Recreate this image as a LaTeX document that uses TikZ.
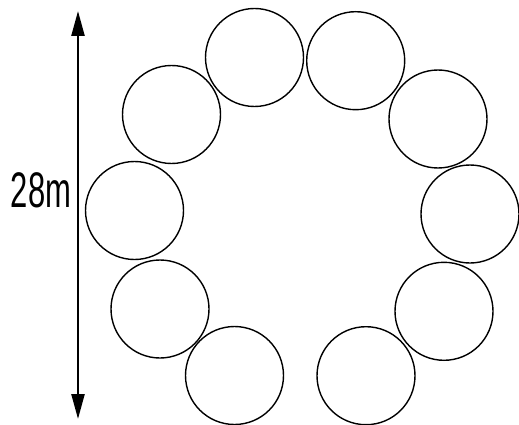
\documentclass[tikz,border=0pt]{standalone}
\usepackage{fontspec}
\setmainfont{Liberation Sans}
\usetikzlibrary{arrows.meta}

\begin{document}
\begin{tikzpicture}[x=1pt, y=-1pt]

  \useasboundingbox (0,0) rectangle (519,425);

  % height arrow
  \coordinate (top) at (78,11);
  \coordinate (bot) at (78,419);
  \draw[{Triangle[length=25pt,width=13pt]}-{Triangle[length=25pt,width=13pt]}, line width=2.4pt] (top) -- (bot);
  \node[xscale=0.62, font=\fontsize{50}{50}\selectfont] (len) at (41,190) {28m};

  % ring of circles
  \foreach \name/\px/\py in {
    c1/254.5/57.5, c2/355.7/60.7, c3/438/119, c4/470/214, c5/444/311.3,
    c6/366/375.7, c7/234.5/375.5, c8/160/309, c9/134.5/210.5, c10/171.5/114.5
  } {
    \node[circle, draw, line width=1.4pt, minimum size=98pt, inner sep=0pt] (\name) at (\px,\py) {};
  }

\end{tikzpicture}
\end{document}
